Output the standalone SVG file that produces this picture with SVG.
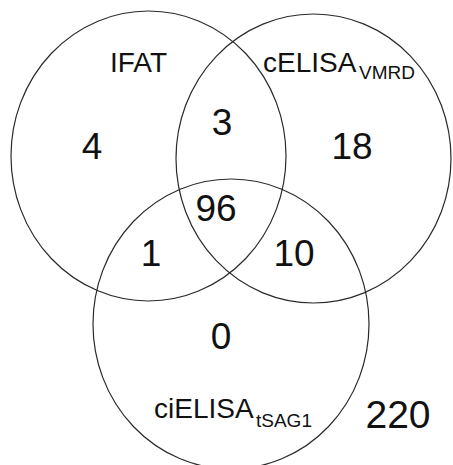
<svg xmlns="http://www.w3.org/2000/svg" width="453" height="465" viewBox="0 0 453 465">
<style>
.set{fill:none;stroke:#2a2a2a;stroke-width:1.2}
.lab{font-family:"Liberation Sans",Arial,sans-serif;font-size:28px;fill:#111}
.sub{font-size:19px}
.num{font-family:"Liberation Sans",Arial,sans-serif;font-size:37px;fill:#111;text-anchor:middle}
</style>
<rect width="453" height="465" fill="#fff"/>
<g id="set-ifat">
<ellipse class="set" cx="148.5" cy="156" rx="137.5" ry="145"/>
<text class="lab" x="110" y="72">IFAT</text>
</g>
<g id="set-celisa">
<ellipse class="set" cx="313.5" cy="158.5" rx="137.5" ry="144.5"/>
<text class="lab" x="263" y="72">cELISA<tspan class="sub" x="359" y="79">VMRD</tspan></text>
</g>
<g id="set-cielisa">
<ellipse class="set" cx="231" cy="324" rx="138" ry="145"/>
<text class="lab" x="154" y="418">ciELISA<tspan class="sub" x="256" y="427">tSAG1</tspan></text>
</g>
<g id="counts">
<text class="num" x="92" y="159">4</text>
<text class="num" x="222" y="135">3</text>
<text class="num" x="352" y="159">18</text>
<text class="num" x="216" y="221">96</text>
<text class="num" x="151" y="266">1</text>
<text class="num" x="294" y="266">10</text>
<text class="num" x="221" y="349">0</text>
<text class="num" x="398" y="428" style="font-size:39px">220</text>
</g>
</svg>
